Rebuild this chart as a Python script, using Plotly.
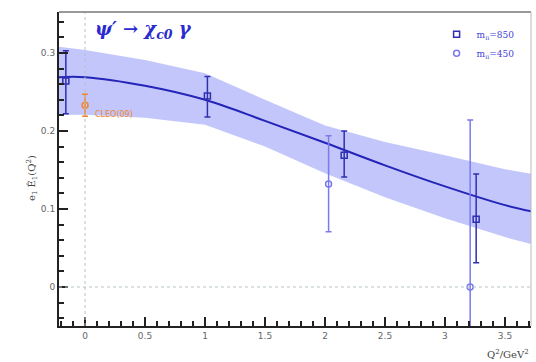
import plotly.graph_objects as go

# Lattice points, heavier pion mass
q2_heavy = [-0.16, 1.02, 2.16, 3.26]
ff_heavy = [0.264, 0.245, 0.169, 0.087]
err_heavy_up = [0.039, 0.025, 0.031, 0.058]
err_heavy_dn = [0.042, 0.027, 0.028, 0.056]

# Lattice points, lighter pion mass
q2_light = [2.03, 3.21]
ff_light = [0.132, 0.0]
err_light_up = [0.062, 0.214]
err_light_dn = [0.061, 0.214]

# Experimental point
q2_exp = [0.0]
ff_exp = [0.233]
err_exp = [0.014]

# Fit curve and its error band
q2_fit = [-0.22, 0.0, 0.5, 1.0, 1.5, 2.0, 2.5, 3.0, 3.5, 3.72]
ff_fit = [0.269, 0.269, 0.258, 0.240, 0.213, 0.185, 0.156, 0.129, 0.105, 0.097]
ff_fit_hi = [0.308, 0.304, 0.291, 0.274, 0.240, 0.207, 0.186, 0.169, 0.151, 0.145]
ff_fit_lo = [0.221, 0.221, 0.217, 0.208, 0.180, 0.146, 0.115, 0.088, 0.064, 0.055]

# Major tick positions (labels follow the default number format)
x_ticks = [0, 0.5, 1, 1.5, 2, 2.5, 3, 3.5]
y_ticks = [0, 0.1, 0.2, 0.3]

X_RANGE = [-0.217, 3.717]
Y_RANGE = [-0.05, 0.3526]

DARK = "#2f2fb0"
LIGHT = "#7a7af0"
BAND = "rgba(120,128,245,0.45)"
ORANGE = "#f0852e"

fig = go.Figure()

fig.add_trace(go.Scatter(x=q2_fit, y=ff_fit_hi, mode="lines", line=dict(width=0),
                         showlegend=False, hoverinfo="skip"))
fig.add_trace(go.Scatter(x=q2_fit, y=ff_fit_lo, mode="lines", line=dict(width=0),
                         fill="tonexty", fillcolor=BAND, showlegend=False, hoverinfo="skip"))
fig.add_trace(go.Scatter(x=q2_fit, y=ff_fit, mode="lines",
                         line=dict(color="#2424b8", width=2, shape="spline"), showlegend=False))

fig.add_trace(go.Scatter(
    x=q2_light, y=ff_light, mode="markers", name="m<sub>π</sub>=450",
    marker=dict(symbol="circle-open", size=6, color=LIGHT, line=dict(width=1.5)),
    error_y=dict(type="data", array=err_light_up, arrayminus=err_light_dn,
                 color=LIGHT, thickness=1.5, width=3)))

fig.add_trace(go.Scatter(
    x=q2_heavy, y=ff_heavy, mode="markers", name="m<sub>π</sub>=850",
    marker=dict(symbol="square-open", size=6, color=DARK, line=dict(width=1.5)),
    error_y=dict(type="data", array=err_heavy_up, arrayminus=err_heavy_dn,
                 color=DARK, thickness=1.5, width=3)))

fig.add_trace(go.Scatter(
    x=q2_exp, y=ff_exp, mode="markers", showlegend=False,
    marker=dict(symbol="circle-open", size=6, color=ORANGE, line=dict(width=1.5)),
    error_y=dict(type="data", array=err_exp, color=ORANGE, thickness=1.5, width=3)))

# empty trace so the overlaid fine-tick axes get drawn
fig.add_trace(go.Scatter(x=[None], y=[None], xaxis="x2", yaxis="y2",
                         showlegend=False, hoverinfo="skip"))

# reference lines at zero
fig.add_vline(x=0, line=dict(color="#b8c4c0", width=1, dash="dot"))
fig.add_hline(y=0, line=dict(color="#b8c4c0", width=1, dash="dot"))

fig.add_annotation(x=0.07, y=ff_exp[0] - 0.012, xref="x", yref="y", text="CLEO(09)",
                   showarrow=False, xanchor="left", font=dict(size=8, color=ORANGE, family="DejaVu Sans"))
fig.add_annotation(x=0.07, y=0.33, xref="x", yref="y", xanchor="left",
                   text="<b><i>ψ′ → χ<sub>c0</sub> γ</i></b>", showarrow=False,
                   font=dict(size=18, color="#2a2ad0", family="DejaVu Serif"))
fig.add_annotation(x=1.0, y=-0.065, xref="paper", yref="paper", xanchor="right", yanchor="top",
                   text="Q<sup>2</sup>/GeV<sup>2</sup>", showarrow=False,
                   font=dict(size=10, color="#444", family="DejaVu Serif"))
fig.add_annotation(x=-0.075, y=0.47, xref="paper", yref="paper", textangle=-90,
                   text="e<sub>1</sub> Ê<sub>1</sub>(Q<sup>2</sup>)", showarrow=False,
                   font=dict(size=10, color="#444", family="DejaVu Serif"))

axis_common = dict(showline=True, linecolor="#222", linewidth=2, mirror=False,
                   ticks="inside", ticklen=9, tickwidth=2, tickcolor="#222",
                   showgrid=False, zeroline=False, tickmode="linear",
                   tickfont=dict(size=9, color="#666", family="DejaVu Sans"))

fig.update_layout(
    xaxis=dict(range=X_RANGE, tick0=x_ticks[0], dtick=x_ticks[1] - x_ticks[0], **axis_common),
    yaxis=dict(range=Y_RANGE, tick0=y_ticks[0], dtick=y_ticks[1] - y_ticks[0], **axis_common),
    # fine ticks every 0.1 in Q^2 and every 0.02 in the form factor
    xaxis2=dict(range=X_RANGE, overlaying="x", side="bottom", anchor="y2", tickmode="linear",
                tick0=0, dtick=0.1, ticks="inside", ticklen=5, tickwidth=2, tickcolor="#222",
                showticklabels=False, showgrid=False, zeroline=False, showline=False),
    yaxis2=dict(range=Y_RANGE, overlaying="y", side="left", anchor="x2", tickmode="linear",
                tick0=0, dtick=0.02, ticks="inside", ticklen=5, tickwidth=2, tickcolor="#222",
                showticklabels=False, showgrid=False, zeroline=False, showline=False),
)

# frame on top and right
fig.add_shape(type="line", xref="paper", yref="paper", x0=0, x1=1, y0=1, y1=1,
              line=dict(color="#999", width=2))
fig.add_shape(type="line", xref="paper", yref="paper", x0=1, x1=1, y0=0, y1=1,
              line=dict(color="#bbb", width=1))

fig.update_layout(
    width=536, height=362,
    margin=dict(l=59, r=5, t=12, b=36),
    plot_bgcolor="white", paper_bgcolor="white",
    legend=dict(x=0.8, y=0.975, xanchor="left", yanchor="top", bgcolor="rgba(0,0,0,0)",
                traceorder="reversed", itemwidth=30,
                font=dict(size=9, color="#4444dd", family="DejaVu Serif"), tracegroupgap=0),
)

fig.write_html("out.html")
